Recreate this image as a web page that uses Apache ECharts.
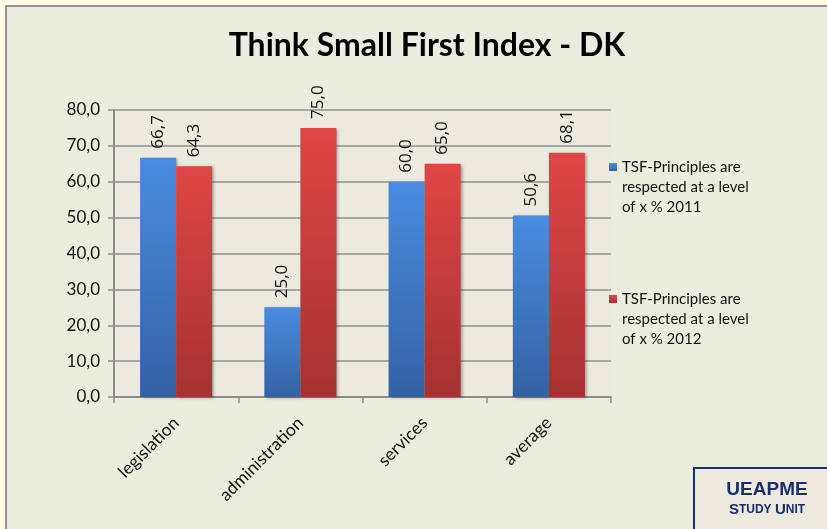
<!DOCTYPE html>
<html>
<head>
<meta charset="utf-8">
<script src="https://cdn.jsdelivr.net/npm/echarts@6/dist/echarts.min.js"></script>
<style>
  html, body { margin: 0; padding: 0; background: #fffde8; }
  #chart { width: 827px; height: 529px; }
</style>
</head>
<body>
<div id="chart"></div>
<script>
'use strict';
// data
const categories = ['legislation', 'administration', 'services', 'average'];
const values2011 = [66.7, 25.0, 60.0, 50.6];
const values2012 = [64.3, 75.0, 65.0, 68.1];
const seriesNames = [
  'TSF-Principles are\nrespected at a level\nof x % 2011',
  'TSF-Principles are\nrespected at a level\nof x % 2012',
];
const yTicks = { min: 0, max: 80, interval: 10 };

const comma = (v) => v.toFixed(1).replace('.', ',');
const grad = (top, bottom) => new echarts.graphic.LinearGradient(0, 0, 0, 1, [
  { offset: 0, color: top }, { offset: 1, color: bottom },
]);
const FONT = 'Lato';

function barSeries(name, data, top, bottom) {
  return {
    name, type: 'bar', data, barGap: '0%', barCategoryGap: '42%',
    itemStyle: {
      color: grad(top, bottom),
      shadowColor: 'rgba(0,0,0,0.35)', shadowBlur: 3, shadowOffsetX: 2, shadowOffsetY: 1,
    },
    label: {
      show: true, position: 'top', rotate: 90, align: 'left', verticalAlign: 'middle',
      distance: 9, fontFamily: 'Open Sans', fontSize: 17, color: '#111',
      formatter: (p) => comma(p.value),
    },
  };
}

// one legend per series; two blank lines in front put the icon on the first text line
function legendAt(name, top) {
  return {
    data: [name], orient: 'vertical', left: 609, top, padding: 0,
    itemWidth: 8, itemHeight: 8, icon: 'rect',
    formatter: (n) => '\n\n' + n,
    textStyle: { fontFamily: FONT, fontSize: 15, color: '#111', lineHeight: 20 },
  };
}

const chart = echarts.init(document.getElementById('chart'));
chart.setOption({
  backgroundColor: '#fffde8',
  animation: false,
  graphic: [
    { type: 'rect', z: -10, shape: { x: 6, y: 6, width: 840, height: 540 },
      style: { fill: '#ebeedf', stroke: '#939393', lineWidth: 2 } },
    { type: 'rect', z: 10, shape: { x: 694, y: 468, width: 150, height: 80 },
      style: { fill: '#edebe0', stroke: '#1c2d6b', lineWidth: 2 } },
    { type: 'text', z: 11, x: 767, y: 480,
      style: { text: 'UEAPME', font: 'bold 19px "Liberation Sans"', fill: '#1c2d6b', textAlign: 'center' } },
    { type: 'text', z: 11, x: 767, y: 502,
      style: { text: '{a|S}{b|TUDY} {a|U}{b|NIT}', fill: '#1c2d6b', textAlign: 'center',
        rich: { a: { fontFamily: 'Liberation Sans', fontWeight: 'bold', fontSize: 15, color: '#1c2d6b' },
                b: { fontFamily: 'Liberation Sans', fontWeight: 'bold', fontSize: 12, color: '#1c2d6b' } } } },
  ],
  title: {
    text: 'Think Small First Index - DK', left: 422, top: 25, textAlign: 'center',
    textStyle: { fontFamily: FONT, fontWeight: 'bold', fontSize: 32, color: '#000' },
  },
  legend: [legendAt(seriesNames[0], 117), legendAt(seriesNames[1], 249)],
  grid: {
    left: 114, top: 110, width: 497, height: 287, show: true,
    backgroundColor: '#edebe0', borderWidth: 0,
  },
  xAxis: {
    type: 'category', data: categories,
    axisLine: { lineStyle: { color: '#8c8c8c', width: 2 } },
    axisTick: { show: true, length: 6, lineStyle: { color: '#8c8c8c', width: 1.5 } },
    axisLabel: { rotate: 45, margin: 23, fontFamily: FONT, fontSize: 17.5, color: '#111' },
  },
  yAxis: {
    type: 'value', min: yTicks.min, max: yTicks.max, interval: yTicks.interval,
    axisLine: { show: true, lineStyle: { color: '#8c8c8c', width: 2 } },
    axisTick: { show: true, length: 6, lineStyle: { color: '#8c8c8c', width: 1.5 } },
    splitLine: { lineStyle: { color: '#919191', width: 1.5 } },
    axisLabel: { margin: 14, fontFamily: FONT, fontSize: 17, color: '#111', formatter: comma },
  },
  series: [
    barSeries(seriesNames[0], values2011, '#4a8ce0', '#3461a3'),
    barSeries(seriesNames[1], values2012, '#e04646', '#a53131'),
  ],
});
</script>
</body>
</html>
